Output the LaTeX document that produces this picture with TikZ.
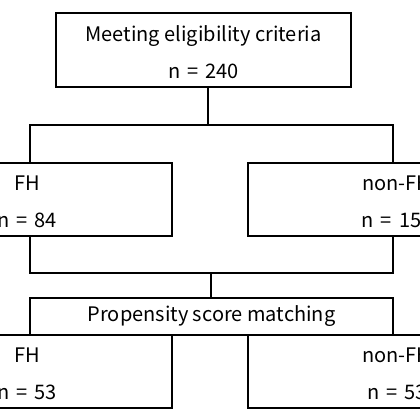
\documentclass[tikz,border=0pt]{standalone}
\usepackage{fontspec}
\setmainfont{Noto Sans CJK JP}
\usepackage{tikz}
\usetikzlibrary{positioning,calc}
\newcommand{\nval}[1]{n\hspace{7pt}=\hspace{7pt}#1}
\newcommand{\topstrut}{\rule{0pt}{20pt}}
\tikzset{
  blk/.style={draw,line width=1.3pt,align=center,inner sep=0pt,outer sep=0pt,
    font=\fontsize{20}{37}\selectfont},
  twoline/.style={blk,minimum height=73pt},
  ln/.style={line width=1.3pt},
}
\begin{document}
\begin{tikzpicture}[x=1pt,y=-1pt]
  \useasboundingbox (0,0) rectangle (420,420);
  \clip (0,0) rectangle (420,420);
  % screening
  \node[blk,minimum width=295pt,minimum height=74pt] (elig) at (203.5,50) {\topstrut Meeting eligibility criteria\\\nval{240}};
  % before matching
  \node[twoline,minimum width=290pt] (fh) at (27,199.5) {\topstrut FH\\\nval{84}};
  \node[twoline,minimum width=298pt] (nonfh) at (397,199.5) {\topstrut non-FH\\\nval{156}};
  % matching
  \node[blk,minimum width=363pt,minimum height=37pt] (psm) at (211.5,316.5) {Propensity score matching};
  \node[twoline,minimum width=290pt] (fhm) at (27,371.5) {\topstrut FH\\\nval{53}};
  \node[twoline,minimum width=298pt] (nonfhm) at (397,371.5) {\topstrut non-FH\\\nval{53}};
  % branch points
  \coordinate (j1) at (208,125);
  \coordinate (bl) at (30,125);
  \coordinate (br) at (393,125);
  \coordinate (cl) at (30,273);
  \coordinate (cr) at (393,273);
  \coordinate (j2) at (211,273);
  % connectors
  \draw[ln] (elig.south -| j1) -- (j1);
  \draw[ln] (bl |- fh.north) -- (bl) -- (br) -- (br |- nonfh.north);
  \draw[ln] (bl |- fh.south) -- (cl) -- (cr) -- (br |- nonfh.south);
  \draw[ln] (j2) -- (j2 |- psm.north);
\end{tikzpicture}
\end{document}
